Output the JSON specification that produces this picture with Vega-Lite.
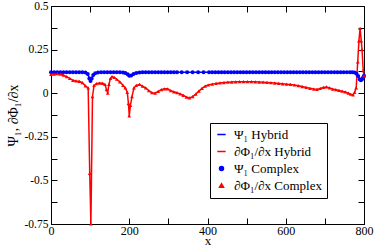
{
  "$schema": "https://vega.github.io/schema/vega-lite/v6.json",
  "autosize": "none",
  "width": 313,
  "height": 218,
  "padding": {"left": 51, "top": 6, "right": 10, "bottom": 22},
  "background": "white",
  "config": {
    "font": "Liberation Serif",
    "view": {"stroke": "black", "strokeWidth": 1},
    "axis": {"grid": false, "domainColor": "black", "tickColor": "black", "labelColor": "black", "titleColor": "black", "labelFont": "Liberation Serif", "titleFont": "Liberation Serif", "titleFontWeight": "normal"}
  },
  "datasets": {
    "psi": [
      {"x":0,"v":0.12},{"x":8,"v":0.12},{"x":16,"v":0.12},{"x":24,"v":0.12},{"x":32,"v":0.12},{"x":40,"v":0.12},{"x":48,"v":0.12},{"x":56,"v":0.12},{"x":64,"v":0.12},{"x":72,"v":0.12},{"x":80,"v":0.12},{"x":88,"v":0.118},{"x":94,"v":0.11},{"x":98,"v":0.085},{"x":101,"v":0.07},{"x":104,"v":0.085},{"x":108,"v":0.105},{"x":113,"v":0.115},{"x":120,"v":0.118},{"x":128,"v":0.12},{"x":136,"v":0.12},{"x":144,"v":0.12},{"x":152,"v":0.12},{"x":160,"v":0.12},{"x":168,"v":0.12},{"x":176,"v":0.12},{"x":184,"v":0.119},{"x":190,"v":0.116},{"x":196,"v":0.108},{"x":200,"v":0.1},{"x":205,"v":0.102},{"x":211,"v":0.11},{"x":218,"v":0.116},{"x":226,"v":0.119},{"x":234,"v":0.12},{"x":242,"v":0.12},{"x":250,"v":0.12},{"x":258,"v":0.12},{"x":266,"v":0.12},{"x":274,"v":0.12},{"x":282,"v":0.12},{"x":290,"v":0.12},{"x":298,"v":0.12},{"x":306,"v":0.12},{"x":314,"v":0.12},{"x":322,"v":0.12},{"x":334,"v":0.12},{"x":348,"v":0.12},{"x":362,"v":0.12},{"x":376,"v":0.12},{"x":390,"v":0.12},{"x":404,"v":0.12},{"x":412,"v":0.12},{"x":420,"v":0.12},{"x":428,"v":0.12},{"x":436,"v":0.12},{"x":444,"v":0.12},{"x":452,"v":0.12},{"x":460,"v":0.12},{"x":468,"v":0.12},{"x":476,"v":0.12},{"x":484,"v":0.12},{"x":492,"v":0.12},{"x":500,"v":0.12},{"x":508,"v":0.12},{"x":516,"v":0.12},{"x":524,"v":0.12},{"x":532,"v":0.12},{"x":540,"v":0.12},{"x":548,"v":0.12},{"x":556,"v":0.12},{"x":564,"v":0.12},{"x":572,"v":0.12},{"x":580,"v":0.12},{"x":588,"v":0.12},{"x":596,"v":0.12},{"x":604,"v":0.12},{"x":612,"v":0.12},{"x":620,"v":0.12},{"x":628,"v":0.12},{"x":636,"v":0.12},{"x":644,"v":0.12},{"x":652,"v":0.12},{"x":660,"v":0.12},{"x":668,"v":0.12},{"x":676,"v":0.12},{"x":684,"v":0.12},{"x":692,"v":0.12},{"x":700,"v":0.12},{"x":708,"v":0.12},{"x":716,"v":0.12},{"x":724,"v":0.12},{"x":732,"v":0.12},{"x":740,"v":0.12},{"x":748,"v":0.12},{"x":756,"v":0.12},{"x":764,"v":0.12},{"x":770,"v":0.12},{"x":776,"v":0.118},{"x":781,"v":0.112},{"x":785,"v":0.098},{"x":789,"v":0.08},{"x":792,"v":0.074},{"x":795,"v":0.08},{"x":798,"v":0.092},{"x":800,"v":0.1}
    ],
    "dphi": [
      {"x":0,"v":0.108},{"x":8,"v":0.11},{"x":16,"v":0.112},{"x":24,"v":0.11},{"x":32,"v":0.103},{"x":40,"v":0.095},{"x":48,"v":0.085},{"x":56,"v":0.074},{"x":64,"v":0.07},{"x":72,"v":0.068},{"x":80,"v":0.06},{"x":88,"v":0.042},{"x":95,"v":0.03},{"x":99,"v":-0.46},{"x":102,"v":-0.75},{"x":106,"v":-0.02},{"x":110,"v":0.045},{"x":116,"v":0.055},{"x":124,"v":0.058},{"x":132,"v":0.057},{"x":138,"v":0.05},{"x":142,"v":0.02},{"x":145,"v":0.0},{"x":148,"v":0.05},{"x":152,"v":0.085},{"x":156,"v":0.095},{"x":162,"v":0.09},{"x":168,"v":0.08},{"x":176,"v":0.065},{"x":184,"v":0.045},{"x":190,"v":0.03},{"x":195,"v":0.005},{"x":198,"v":-0.06},{"x":200,"v":-0.13},{"x":203,"v":-0.07},{"x":207,"v":-0.02},{"x":212,"v":0.03},{"x":218,"v":0.045},{"x":226,"v":0.05},{"x":234,"v":0.04},{"x":242,"v":0.03},{"x":250,"v":0.015},{"x":258,"v":0.003},{"x":266,"v":0.0},{"x":274,"v":0.01},{"x":282,"v":0.02},{"x":290,"v":0.025},{"x":298,"v":0.025},{"x":306,"v":0.015},{"x":314,"v":0.008},{"x":322,"v":0.003},{"x":330,"v":-0.004},{"x":338,"v":-0.012},{"x":346,"v":-0.022},{"x":354,"v":-0.027},{"x":362,"v":-0.02},{"x":370,"v":-0.005},{"x":378,"v":0.012},{"x":386,"v":0.028},{"x":394,"v":0.04},{"x":402,"v":0.047},{"x":412,"v":0.052},{"x":422,"v":0.056},{"x":432,"v":0.059},{"x":442,"v":0.061},{"x":452,"v":0.063},{"x":462,"v":0.064},{"x":472,"v":0.065},{"x":482,"v":0.066},{"x":492,"v":0.066},{"x":502,"v":0.066},{"x":512,"v":0.066},{"x":522,"v":0.065},{"x":532,"v":0.064},{"x":542,"v":0.063},{"x":552,"v":0.062},{"x":562,"v":0.06},{"x":572,"v":0.058},{"x":582,"v":0.056},{"x":592,"v":0.054},{"x":602,"v":0.052},{"x":612,"v":0.05},{"x":622,"v":0.047},{"x":632,"v":0.043},{"x":642,"v":0.038},{"x":652,"v":0.033},{"x":662,"v":0.028},{"x":672,"v":0.024},{"x":680,"v":0.022},{"x":688,"v":0.027},{"x":696,"v":0.033},{"x":704,"v":0.036},{"x":712,"v":0.03},{"x":720,"v":0.024},{"x":728,"v":0.02},{"x":736,"v":0.016},{"x":744,"v":0.012},{"x":752,"v":0.007},{"x":760,"v":0.0},{"x":766,"v":-0.006},{"x":772,"v":-0.01},{"x":776,"v":0.005},{"x":780,"v":0.03},{"x":784,"v":0.18},{"x":787,"v":0.3},{"x":790,"v":0.372},{"x":793,"v":0.3},{"x":795,"v":0.25},{"x":798,"v":0.13},{"x":800,"v":0.1}
    ]
  },
  "resolve": {"axis": {"x": "independent", "y": "independent"}},
  "layer": [
    {
      "data": {"name": "psi"},
      "mark": {"type": "line", "strokeWidth": 1.5},
      "encoding": {
        "x": {"field": "x", "type": "quantitative", "scale": {"domain": [0, 800], "nice": false, "zero": false},
          "axis": {"orient": "bottom", "title": "x", "titleFontSize": 13, "titlePadding": -2, "values": [0,100,200,300,400,500,600,700,800],
            "labelExpr": "datum.value % 200 === 0 ? datum.value + '' : ''", "labelFontSize": 12, "labelFlush": false, "labelOverlap": false, "labelPadding": 7, "tickSize": -6,
            "encode": {"ticks": {"update": {"y2": {"signal": "datum.value % 200 === 0 ? -6 : -3"}}}}}},
        "y": {"field": "v", "type": "quantitative", "scale": {"domain": [-0.75, 0.5], "nice": false, "zero": false},
          "axis": {"orient": "left", "title": "Ψ₁, ∂Φ₁/∂x", "titleFontSize": 14, "titlePadding": 4, "values": [-0.75,-0.625,-0.5,-0.375,-0.25,-0.125,0,0.125,0.25,0.375,0.5],
            "labelExpr": "datum.value % 0.25 === 0 ? datum.value + '' : ''", "labelFontSize": 11.5, "labelOverlap": false, "labelFlush": false, "labelPadding": 9, "tickSize": -6,
            "encode": {"ticks": {"update": {"x2": {"signal": "datum.value % 0.25 === 0 ? 6 : 3"}}}}}},
        "color": {"datum": "Ψ₁ Hybrid", "type": "nominal",
          "scale": {"domain": ["Ψ₁ Hybrid", "∂Φ₁/∂x Hybrid", "Ψ₁ Complex", "∂Φ₁/∂x Complex"], "range": ["#0000ff", "#ff0000", "#0000ff", "#ff0000"]},
          "legend": {"title": null, "orient": "none", "legendX": 159, "legendY": 117, "strokeColor": "black", "fillColor": "white", "padding": 5, "labelFontSize": 13, "labelFont": "Liberation Serif", "rowPadding": 3, "symbolStrokeWidth": 1.5, "labelOffset": 6,
            "encode": {"symbols": {"update": {"size": {"signal": "datum.index < 2 ? 70 : 16"}}}}}}
      }
    },
    {
      "data": {"name": "dphi"},
      "mark": {"type": "line", "strokeWidth": 1.5},
      "encoding": {
        "x": {"field": "x", "type": "quantitative", "axis": {"orient": "top", "title": null, "values": [0,100,200,300,400,500,600,700,800], "labels": false, "domain": false, "tickSize": -6,
            "encode": {"ticks": {"update": {"y2": {"signal": "datum.value % 200 === 0 ? 6 : 3"}}}}}},
        "y": {"field": "v", "type": "quantitative", "axis": {"orient": "right", "title": null, "values": [-0.75,-0.625,-0.5,-0.375,-0.25,-0.125,0,0.125,0.25,0.375,0.5], "labels": false, "domain": false, "tickSize": -6,
            "encode": {"ticks": {"update": {"x2": {"signal": "datum.value % 0.25 === 0 ? -6 : -3"}}}}}},
        "color": {"datum": "∂Φ₁/∂x Hybrid", "type": "nominal"}
      }
    },
    {
      "data": {"name": "psi"},
      "mark": {"type": "point", "filled": true, "size": 16, "opacity": 1},
      "encoding": {
        "x": {"field": "x", "type": "quantitative", "axis": null},
        "y": {"field": "v", "type": "quantitative", "axis": null},
        "color": {"datum": "Ψ₁ Complex", "type": "nominal"},
        "shape": {"datum": "Ψ₁ Complex", "type": "nominal",
          "scale": {"domain": ["Ψ₁ Hybrid", "∂Φ₁/∂x Hybrid", "Ψ₁ Complex", "∂Φ₁/∂x Complex"], "range": ["stroke", "stroke", "circle", "triangle-up"]},
          "legend": {"title": null, "orient": "none", "legendX": 159, "legendY": 117}}
      }
    },
    {
      "data": {"name": "dphi"},
      "mark": {"type": "point", "filled": true, "size": 14, "opacity": 1},
      "encoding": {
        "x": {"field": "x", "type": "quantitative", "axis": null},
        "y": {"field": "v", "type": "quantitative", "axis": null},
        "color": {"datum": "∂Φ₁/∂x Complex", "type": "nominal"},
        "shape": {"datum": "∂Φ₁/∂x Complex", "type": "nominal"}
      }
    }
  ]
}
